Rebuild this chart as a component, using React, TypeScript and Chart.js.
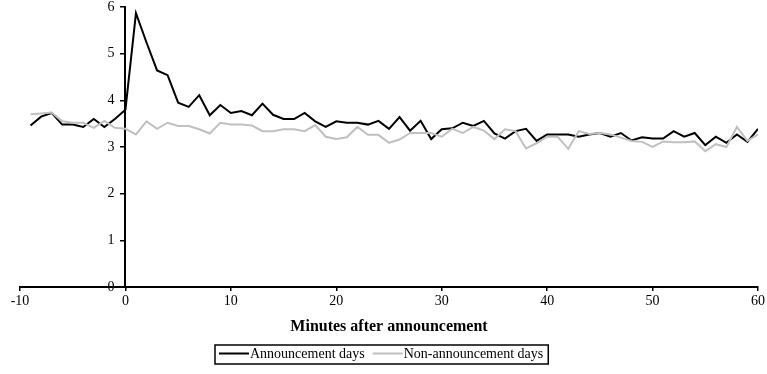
import React, { useEffect, useRef } from "react";
import { Chart, registerables } from "chart.js";

Chart.register(...registerables);

const minutes = [
  -9, -8, -7, -6, -5, -4, -3, -2, -1, 0, 1, 2, 3, 4, 5, 6, 7, 8, 9, 10, 11, 12, 13, 14, 15, 16, 17, 18, 19, 20,
  21, 22, 23, 24, 25, 26, 27, 28, 29, 30, 31, 32, 33, 34, 35, 36, 37, 38, 39, 40, 41, 42, 43, 44, 45, 46, 47, 48,
  49, 50, 51, 52, 53, 54, 55, 56, 57, 58, 59, 60,
];

const announcementDays = [
  3.46, 3.65, 3.73, 3.48, 3.48, 3.43, 3.6, 3.43, 3.6, 3.8, 5.87, 5.24, 4.64, 4.54, 3.95, 3.86, 4.11, 3.68, 3.9,
  3.73, 3.77, 3.68, 3.93, 3.69, 3.6, 3.6, 3.73, 3.55, 3.43, 3.55, 3.52, 3.52, 3.48, 3.56, 3.39, 3.64, 3.35, 3.56,
  3.17, 3.38, 3.4, 3.52, 3.45, 3.56, 3.29, 3.18, 3.34, 3.39, 3.13, 3.27, 3.27, 3.27, 3.22, 3.27, 3.3, 3.22, 3.3,
  3.14, 3.21, 3.18, 3.18, 3.34, 3.22, 3.3, 3.04, 3.22, 3.09, 3.27, 3.11, 3.39,
];

const nonAnnouncementDays = [
  3.7, 3.72, 3.74, 3.55, 3.52, 3.52, 3.41, 3.56, 3.41, 3.39, 3.27, 3.55, 3.39, 3.52, 3.45, 3.45, 3.38, 3.29, 3.52,
  3.48, 3.48, 3.46, 3.34, 3.34, 3.38, 3.38, 3.34, 3.47, 3.22, 3.17, 3.21, 3.43, 3.26, 3.26, 3.09, 3.16, 3.3, 3.3,
  3.3, 3.22, 3.39, 3.3, 3.43, 3.35, 3.17, 3.38, 3.34, 2.97, 3.08, 3.22, 3.22, 2.96, 3.34, 3.28, 3.3, 3.27, 3.2,
  3.13, 3.11, 3.0, 3.12, 3.1, 3.1, 3.12, 2.91, 3.06, 3.0, 3.43, 3.13, 3.27,
];

const seriesLabels = ["Announcement days", "Non-announcement days"];
const seriesColors = ["#000000", "#c0c0c0"];
const xTitle = "Minutes after announcement";
const xMin = -10;
const xMax = 60;
const xStep = 10;
const yMin = 0;
const yMax = 6;
const yStep = 1;
const yAxisCrossesAt = 0;

const FONT = "'Liberation Serif', 'Times New Roman', serif";

export default function App() {
  const ref = useRef<HTMLCanvasElement>(null);

  useEffect(() => {
    document.body.style.margin = "0";
    const canvas = ref.current;
    if (!canvas) return;

    // y tick labels beside the crossing axis, taken from the library's own y scale ticks
    const yLabels = {
      id: "yLabels",
      afterDraw(chart: any) {
        const ctx = chart.ctx as CanvasRenderingContext2D;
        const ys = chart.scales.y;
        const xs = chart.scales.x;
        const axisX = xs.getPixelForValue(yAxisCrossesAt);
        ctx.save();
        ctx.font = `14px ${FONT}`;
        ctx.fillStyle = "#000";
        ctx.textAlign = "right";
        ctx.textBaseline = "middle";
        ys.ticks.forEach((t: any) => {
          ctx.fillText(String(t.value), axisX - 11, ys.getPixelForValue(t.value));
        });
        ctx.restore();
      },
    };

    const boxLegend = {
      id: "boxLegend",
      afterDraw(chart: any) {
        const ctx = chart.ctx as CanvasRenderingContext2D;
        ctx.save();
        ctx.font = `14px ${FONT}`;
        ctx.textBaseline = "middle";
        ctx.textAlign = "left";
        const boxLeft = 215;
        const boxTop = 345;
        const boxH = 19;
        const sample = 30;
        const gap = 1;
        const itemGap = 8;
        const cy = boxTop + boxH / 2;
        let x = boxLeft + 4;
        seriesLabels.forEach((label, i) => {
          ctx.strokeStyle = seriesColors[i];
          ctx.lineWidth = 2;
          ctx.beginPath();
          ctx.moveTo(x, cy - 1);
          ctx.lineTo(x + sample, cy - 1);
          ctx.stroke();
          x += sample + gap;
          ctx.fillStyle = "#000";
          ctx.fillText(label, x, cy);
          x += ctx.measureText(label).width + itemGap;
        });
        const boxRight = x - itemGap + 5;
        ctx.strokeStyle = "#000";
        ctx.lineWidth = 1.5;
        ctx.strokeRect(boxLeft, boxTop, boxRight - boxLeft, boxH);
        ctx.restore();
      },
    };

    const chart = new Chart(canvas, {
      type: "line",
      data: {
        datasets: [
          {
            label: seriesLabels[1],
            data: minutes.map((m, i) => ({ x: m, y: nonAnnouncementDays[i] })),
            borderColor: seriesColors[1],
            borderWidth: 2,
            pointRadius: 0,
            tension: 0,
            fill: false,
          },
          {
            label: seriesLabels[0],
            data: minutes.map((m, i) => ({ x: m, y: announcementDays[i] })),
            borderColor: seriesColors[0],
            borderWidth: 2,
            pointRadius: 0,
            tension: 0,
            fill: false,
          },
        ],
      },
      options: {
        responsive: false,
        animation: false,
        events: [],
        layout: { padding: { left: 20, right: 8, top: 7, bottom: 38 } },
        plugins: {
          legend: { display: false },
          tooltip: { enabled: false },
        },
        scales: {
          x: {
            type: "linear",
            position: "bottom",
            min: xMin,
            max: xMax,
            grid: { drawOnChartArea: false, drawTicks: true, tickLength: 4, color: "#000", lineWidth: 1.5 },
            border: { color: "#000", width: 2 },
            ticks: {
              stepSize: xStep,
              color: "#000",
              font: { family: FONT, size: 14 },
              padding: 2,
              maxRotation: 0,
              autoSkip: false,
            },
            title: {
              display: true,
              text: xTitle,
              color: "#000",
              font: { family: FONT, size: 16, weight: "bold" },
              padding: { top: 8, bottom: 0 },
            },
            afterFit: (s: any) => {
              s.height = 49;
            },
          },
          y: {
            type: "linear",
            position: { x: yAxisCrossesAt } as any,
            min: yMin,
            max: yMax,
            grid: { drawOnChartArea: false, drawTicks: true, tickLength: 4, color: "#000", lineWidth: 1.5 },
            border: { color: "#000", width: 2 },
            ticks: {
              stepSize: yStep,
              display: false,
            },
            afterFit: (s: any) => {
              s.width = 0;
            },
          },
        },
      },
      plugins: [yLabels, boxLegend],
    });

    return () => chart.destroy();
  }, []);

  return (
    <div style={{ position: "absolute", left: 0, top: 0, width: 767, height: 374, background: "#fff" }}>
      <canvas ref={ref} width={767} height={374} style={{ display: "block", width: 767, height: 374 }} />
    </div>
  );
}
